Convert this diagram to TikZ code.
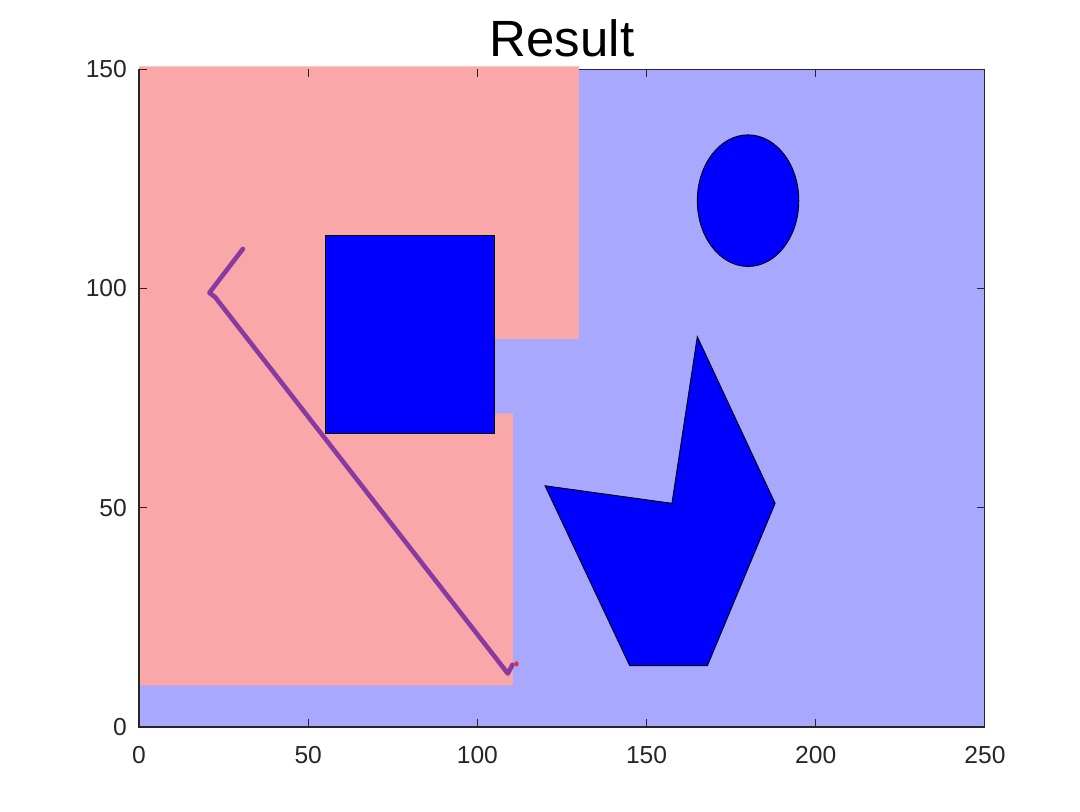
\documentclass[tikz,border=0pt]{standalone}
\usepackage{fontspec}
\setmainfont{Liberation Sans}
\definecolor{freeblue}{RGB}{168,168,255}
\definecolor{zonepink}{RGB}{249,167,168}
\definecolor{pathpurple}{RGB}{136,58,160}
\definecolor{axisgray}{RGB}{38,38,38}
\tikzset{
  ticklab/.style={font=\fontsize{14}{16}\selectfont,text=axisgray,inner sep=0pt},
  obstacle/.style={fill=blue,draw=black,line width=0.5pt}
}
\begin{document}
\begin{tikzpicture}
  \useasboundingbox (0,0) rectangle (21.6,16.22);
  \node (title) at (11.24,15.46) {\fontsize{29}{32}\selectfont Result};
  \begin{scope}[shift={(2.78,1.68)},x=0.06768cm,y=0.08773cm]
    % free space and inflated zone
    \fill[freeblue] (0,0) rectangle (250,150);
    \fill[zonepink] (0,9.5) -- (110.5,9.5) -- (110.5,71.5) -- (105,71.5) -- (105,88.5)
      -- (130,88.5) -- (130,150.6) -- (0,150.6) -- cycle;
    % obstacles
    \draw[obstacle] (55,67) rectangle (105,112);
    \draw[obstacle] (180,120) circle [radius=15];
    \draw[obstacle] (120,55) -- (157.5,51) -- (165,89) -- (188,51) -- (168,14) -- (145,14) -- cycle;
    % path
    \draw[pathpurple,line width=2.6pt,line join=round,line cap=round]
      (30.7,109) -- (20.8,99) -- (22.5,98) -- (109,12.2) -- (110.4,14.2);
    \fill[red!80!pink] (111.6,14.4) circle [radius=0.6];
    % axes
    \draw[axisgray,line width=0.6pt] (130,150) -- (250,150) -- (250,0) -- (0,0) -- (0,150);
    \foreach \x in {0,50,...,250} {
      \draw[axisgray,line width=0.6pt] (\x,0) -- ++(0,0.16cm);
      \draw[axisgray,line width=0.6pt] (\x,150) -- ++(0,-0.16cm);
      \node[ticklab,anchor=north] (xl\x) at (\x,-4.3) {\x};
    }
    \foreach \y in {0,50,100,150} {
      \draw[axisgray,line width=0.6pt] (0,\y) -- ++(0.16cm,0);
      \draw[axisgray,line width=0.6pt] (250,\y) -- ++(-0.16cm,0);
      \node[ticklab,anchor=east] (yl\y) at (-3.5,\y) {\y};
    }
  \end{scope}
\end{tikzpicture}
\end{document}
